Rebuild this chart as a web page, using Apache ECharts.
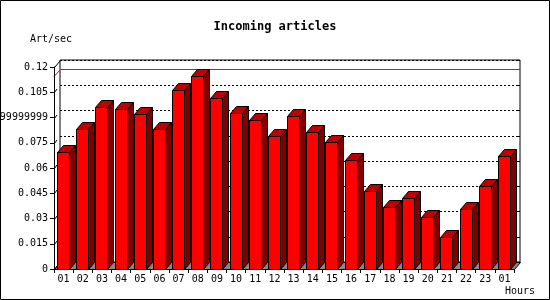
<!DOCTYPE html>
<html>
<head>
<meta charset="utf-8">
<script src="https://cdn.jsdelivr.net/npm/echarts@6/dist/echarts.min.js"></script>
<style>
html,body{margin:0;padding:0;background:#fff;}
#chart{width:550px;height:300px;}
</style>
</head>
<body>
<div id="chart"></div>
<script>
const hours = ["01","02","03","04","05","06","07","08","09","10","11","12","13","14","15","16","17","18","19","20","21","22","23","01"];
const artPerSec = [0.0695, 0.0832, 0.0962, 0.0950, 0.0921, 0.0832, 0.1063, 0.1147, 0.1016, 0.0927, 0.0885, 0.0790,
                   0.0909, 0.0814, 0.0754, 0.0648, 0.0463, 0.0368, 0.0422, 0.0309, 0.0190, 0.0356, 0.0493, 0.0671];
const yTickLabels = ["0","0.015","0.03","0.045","0.06","0.075","0.0899999999999","0.105","0.12"];
const yMin = 0, yMax = 0.12, yStep = 0.015;

const DX = 6, DY = 7;
const FONT = '"DejaVu Sans Mono", monospace';
const chart = echarts.init(document.getElementById('chart'), null, {renderer:'canvas'});
const maxVal = Math.max.apply(null, artPerSec);
const tickValues = yTickLabels.map(function (_, i) { return yMin + i * yStep; });

const option = {
  animation: false,
  backgroundColor: '#fff',
  title: {
    text: 'Incoming articles', left: 'center', top: 21, padding: 0,
    textStyle: {fontFamily: FONT, fontWeight: 'bold', fontSize: 12, color: '#000'}
  },
  grid: [
    {left: 54, top: 67, width: 460, height: 202, show: false, containLabel: false, outerBoundsMode: 'none'},
    {left: 60, top: 60, width: 460, height: 202, show: true, backgroundColor: '#fff', borderColor: '#000', borderWidth: 1, z: 0, containLabel: false, outerBoundsMode: 'none'}
  ],
  xAxis: [
    {type: 'category', gridIndex: 0, data: hours, boundaryGap: true,
     axisLine: {show: true, lineStyle: {color: '#000', width: 1}},
     axisTick: {show: true, length: 4, interval: 0, lineStyle: {color: '#000'}},
     axisLabel: {interval: 0, margin: 5, color: '#000', fontFamily: FONT, fontSize: 10},
     splitLine: {show: false}, z: 5},
    {type: 'category', gridIndex: 1, data: hours, show: false}
  ],
  yAxis: [
    {type: 'value', gridIndex: 0, min: yMin, max: yMax, interval: yStep,
     axisLine: {show: true, lineStyle: {color: '#000', width: 1}},
     axisTick: {show: true, length: 4, lineStyle: {color: '#000'}},
     axisLabel: {margin: 6, color: '#000', fontFamily: FONT, fontSize: 10,
                 formatter: function (v) { const i = Math.round((v - yMin) / yStep); return yTickLabels[i]; }},
     splitLine: {show: false}, z: 5},
    {type: 'value', gridIndex: 1, min: yMin, max: yMax, interval: yStep, position: 'right',
     axisLine: {show: false},
     axisTick: {show: true, inside: true, length: 3, lineStyle: {color: '#000'}},
     axisLabel: {show: false},
     splitLine: {show: true, lineStyle: {color: '#000', type: [2, 2], width: 1}}}
  ],
  graphic: [
    {type: 'rect', shape: {x: 0.5, y: 0.5, width: 549, height: 299}, style: {fill: 'none', stroke: '#000', lineWidth: 1}, z: 100},
    {type: 'text', x: 30, y: 39, style: {text: 'Art/sec', font: '10px ' + FONT, fill: '#000', verticalAlign: 'middle'}},
    {type: 'text', x: 505, y: 291, style: {text: 'Hours', font: '10px ' + FONT, fill: '#000', verticalAlign: 'middle'}}
  ],
  series: [
    { // max line on back wall
      type: 'custom', xAxisIndex: 1, yAxisIndex: 1, data: [[0, maxVal]], silent: true, z: 1,
      renderItem: function (params, api) {
        const cs = params.coordSys;
        const y = Math.round(api.coord([0, api.value(1)])[1]) + 0.5;
        return {type: 'polyline', shape: {points: [[cs.x - DX, y + DY], [cs.x + 0.5, y], [cs.x + cs.width, y]]},
                style: {stroke: '#ff0000', lineWidth: 1, fill: 'none'}};
      }
    },
    { // depth marks on the front value axis
      type: 'custom', xAxisIndex: 0, yAxisIndex: 0, silent: true, z: 4,
      data: tickValues.map(function (v) { return [0, v]; }),
      renderItem: function (params, api) {
        const cs = params.coordSys;
        const y = Math.round(api.coord([0, api.value(1)])[1]) + 0.5;
        const x = cs.x + 0.5;
        const full = Math.abs(api.value(1) - yMax) < 1e-9;
        const pts = full ? [[x, y], [x + DX, y - DY]] : [[x, y], [x + 2.5, y - 3.5]];
        return {type: 'polyline', shape: {points: pts}, style: {stroke: '#000', lineWidth: 1, fill: 'none'}};
      }
    },
    { // floor
      type: 'custom', xAxisIndex: 0, yAxisIndex: 0, data: [[0, 0]], silent: true, z: 2,
      renderItem: function (params, api) {
        const cs = params.coordSys;
        const b = cs.y + cs.height + 0.5, l = cs.x + 0.5, r = cs.x + cs.width + 0.5;
        return {type: 'polygon', shape: {points: [[l, b], [r, b], [r + DX, b - DY], [l + DX, b - DY]]},
                style: {fill: '#888888', stroke: '#000', lineWidth: 1}};
      }
    },
    { // 3D bars
      type: 'custom', xAxisIndex: 0, yAxisIndex: 0, z: 3,
      data: artPerSec.map(function (v, i) { return [i, v]; }),
      encode: {x: 0, y: 1},
      renderItem: function (params, api) {
        const i = api.value(0), v = api.value(1);
        const top = api.coord([i, v]), base = api.coord([i, 0]);
        const bw = api.size([1, 0])[0];
        const x0 = Math.round(top[0] - bw * 0.34) + 0.5;
        const w = Math.round(bw * 0.63);
        const yt = Math.round(top[1]) + 0.5, yb = Math.round(base[1]) + 0.5;
        const x1 = x0 + w;
        const st = {stroke: '#000', lineWidth: 1};
        return {type: 'group', children: [
          {type: 'polygon', shape: {points: [[x1, yb], [x1, yt], [x1 + DX, yt - DY], [x1 + DX, yb - DY]]},
           style: Object.assign({fill: '#800000'}, st)},
          {type: 'polygon', shape: {points: [[x0, yt], [x0 + DX, yt - DY], [x1 + DX, yt - DY], [x1, yt]]},
           style: Object.assign({fill: '#c00000'}, st)},
          {type: 'rect', shape: {x: x0, y: yt, width: w, height: yb - yt},
           style: Object.assign({fill: '#ff0000'}, st)}
        ]};
      }
    }
  ]
};
chart.setOption(option);
</script>
</body>
</html>
